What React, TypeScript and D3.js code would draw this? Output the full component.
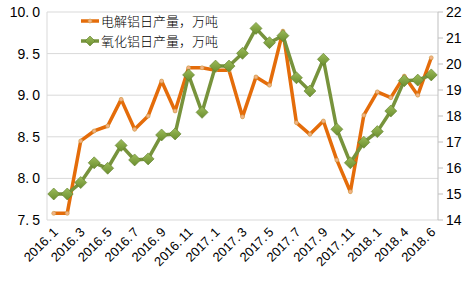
import React from "react";
import * as d3 from "d3";

const categories = [
  "2016.1","2016.2","2016.3","2016.4","2016.5","2016.6","2016.7","2016.8","2016.9","2016.10","2016.11","2016.12",
  "2017.1","2017.2","2017.3","2017.4","2017.5","2017.6","2017.7","2017.8","2017.9","2017.10","2017.11","2017.12",
  "2018.1","2018.3","2018.4","2018.5","2018.6",
];
const tickLabels = [
  "2016.1","2016.3","2016.5","2016.7","2016.9","2016.11","2017.1","2017.3","2017.5","2017.7","2017.9","2017.11","2018.1","2018.4","2018.6",
];
// 电解铝日产量 (left axis)
const aluminium = [
  7.58, 7.58, 8.45, 8.57, 8.63, 8.95, 8.59, 8.75, 9.17, 8.81, 9.33, 9.33,
  9.30, 9.30, 8.74, 9.22, 9.12, 9.77, 8.67, 8.53, 8.69, 8.22, 7.84, 8.76,
  9.04, 8.97, 9.23, 9.00, 9.45,
];
// 氧化铝日产量 (right axis)
const alumina = [
  15.0, 15.0, 15.44, 16.2, 15.99, 16.87, 16.31, 16.35, 17.27, 17.31, 19.58, 18.14,
  19.92, 19.92, 20.41, 21.37, 20.82, 21.09, 19.47, 18.96, 20.18, 17.49, 16.2, 16.99,
  17.4, 18.19, 19.36, 19.38, 19.58,
];
const leftTicks = [7.5, 8.0, 8.5, 9.0, 9.5, 10.0];
const rightTicks = [14, 15, 16, 17, 18, 19, 20, 21, 22];
const legendNames = ["电解铝日产量，万吨", "氧化铝日产量，万吨"];

const W = 472, H = 283;
const L = 47, R = 438, T = 12, B = 220;
const ORANGE = "#E46C0A";
const GREEN = "#77933C";

function splitNum(s: string) {
  const i = s.indexOf(".");
  return [s.slice(0, i + 1), s.slice(i + 1)];
}

export default function App() {
  const x = d3.scaleBand<string>().domain(categories).range([L, R]);
  const cx = (c: string) => (x(c) as number) + x.bandwidth() / 2;
  const yL = d3.scaleLinear().domain([7.5, 10]).range([B, T]);
  const yR = d3.scaleLinear().domain([14, 22]).range([B, T]);

  const lineL = d3.line<number>().x((_, i) => cx(categories[i])).y((d) => yL(d));
  const lineR = d3.line<number>().x((_, i) => cx(categories[i])).y((d) => yR(d));

  const diamond = (px: number, py: number, r: number) =>
    `M${px},${py - r}L${px + r},${py}L${px},${py + r}L${px - r},${py}Z`;

  const font = "'Liberation Sans', Arial, sans-serif";
  const cjk = "'Noto Sans CJK SC', sans-serif";

  return (
    <svg width={W} height={H} style={{ position: "absolute", left: 0, top: 0, background: "#fff" }}>
      <defs>
        <linearGradient id="gd" x1="0" y1="0" x2="0" y2="1">
          <stop offset="0" stopColor="#9BBB59" />
          <stop offset="1" stopColor="#6B8E2F" />
        </linearGradient>
      </defs>
      {leftTicks.map((t) => (
        <line key={t} x1={L} x2={R} y1={yL(t)} y2={yL(t)} stroke="#D9D9D9" strokeWidth={1} />
      ))}
      <line x1={L} x2={L} y1={T} y2={B} stroke="#D9D9D9" />
      <line x1={R} x2={R} y1={T} y2={B} stroke="#BFBFBF" />
      {rightTicks.map((t) => (
        <line key={t} x1={R} x2={R + 5} y1={yR(t)} y2={yR(t)} stroke="#BFBFBF" />
      ))}
      {leftTicks.map((t) => {
        const [a, b] = splitNum(t.toFixed(1));
        return (
          <text key={t} x={40} y={yL(t) + 5} textAnchor="end" fontFamily={font} fontSize={14} fill="#000">
            {a}
            <tspan dx={3}>{b}</tspan>
          </text>
        );
      })}
      {rightTicks.map((t) => (
        <text key={t} x={446} y={yR(t) + 5} fontFamily={font} fontSize={14} fill="#000">
          {t}
        </text>
      ))}
      {tickLabels.map((c) => {
        const [a, b] = splitNum(c);
        return (
          <text
            key={c}
            transform={`translate(${cx(c) + 5},${B + 13}) rotate(-45)`}
            textAnchor="end"
            fontFamily={font}
            fontSize={13}
            fill="#000"
          >
            {a}
            <tspan dx={2}>{b}</tspan>
          </text>
        );
      })}
      <path d={lineL(aluminium) || ""} fill="none" stroke={ORANGE} strokeWidth={3.5} strokeLinejoin="round" />
      {aluminium.map((v, i) => (
        <circle key={i} cx={cx(categories[i])} cy={yL(v)} r={2} fill="#F4B183" stroke="#C9A04A" strokeWidth={0.6} />
      ))}
      <path d={lineR(alumina) || ""} fill="none" stroke={GREEN} strokeWidth={3.5} strokeLinejoin="round" />
      {alumina.map((v, i) => (
        <path key={i} d={diamond(cx(categories[i]), yR(v), 6)} fill="url(#gd)" stroke="#5E7D2A" strokeWidth={0.6} />
      ))}
      <line x1={81} x2={99} y1={21} y2={21} stroke={ORANGE} strokeWidth={3.5} />
      <circle cx={90} cy={21} r={2} fill="#F4B183" stroke="#C9A04A" strokeWidth={0.6} />
      <text x={101} y={26} fontFamily={cjk} fontSize={13} fontWeight={300} fill="#000">{legendNames[0]}</text>
      <line x1={81} x2={99} y1={41} y2={41} stroke={GREEN} strokeWidth={3.5} />
      <path d={diamond(90, 41, 5)} fill="url(#gd)" stroke="#5E7D2A" strokeWidth={0.6} />
      <text x={101} y={46} fontFamily={cjk} fontSize={13} fontWeight={300} fill="#000">{legendNames[1]}</text>
    </svg>
  );
}
